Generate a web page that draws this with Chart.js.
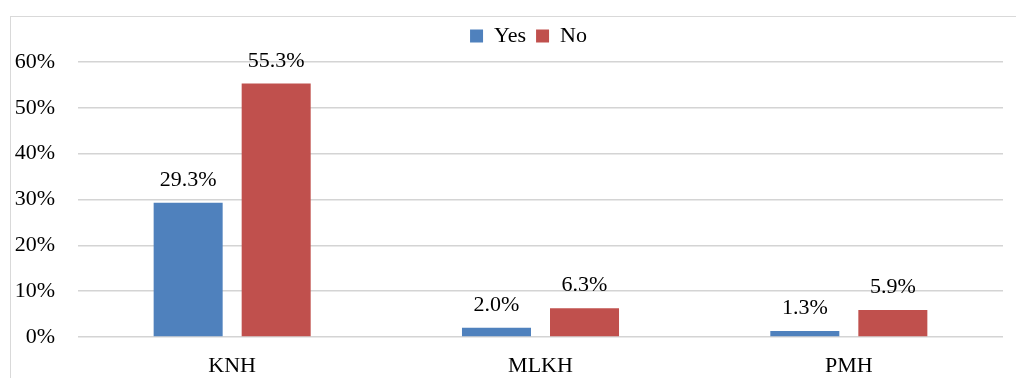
<!DOCTYPE html>
<html>
<head>
<meta charset="utf-8">
<script src="https://cdn.jsdelivr.net/npm/chart.js@4"></script>
<style>
    html, body { margin: 0; padding: 0; background: #fff; overflow: hidden; }
    #wrap { position: relative; width: 1016px; height: 378px; }
    #frame { position: absolute; left: 10px; top: 16px; width: 1100px; height: 400px; border: 1px solid #d9d9d9; }
</style>
</head>
<body>
<div id="wrap">
    <div id="frame"></div>
    <canvas id="hospitalChart"></canvas>
</div>
<script>
const hospitals = ['KNH', 'MLKH', 'PMH'];
const yesValues = [29.3, 2.0, 1.3];
const noValues = [55.3, 6.3, 5.9];
const yTicks = [0, 10, 20, 30, 40, 50, 60];

const serif = "'Liberation Serif', 'Times New Roman', serif";

// percentage text above each bar
const valueLabels = {
    id: 'valueLabels',
    afterDatasetsDraw(chart) {
        const ctx = chart.ctx;
        ctx.save();
        ctx.font = '22px ' + serif;
        ctx.fillStyle = '#000';
        ctx.textAlign = 'center';
        ctx.textBaseline = 'alphabetic';
        chart.data.datasets.forEach((ds, i) => {
            chart.getDatasetMeta(i).data.forEach((bar, j) => {
                ctx.fillText(ds.data[j].toFixed(1) + '%', bar.x, bar.y - 17);
            });
        });
        ctx.restore();
    }
};

// a bit more room under the legend, and nudge it right
const legendTweak = {
    id: 'legendTweak',
    afterInit(chart) {
        const fit = chart.legend.fit;
        chart.legend.fit = function () {
            fit.call(this);
            this.height += 5;
        };
    },
    afterLayout(chart) {
        chart.legend.left += 20;
        chart.legend.right += 20;
    }
};

const ctx = document.getElementById('hospitalChart').getContext('2d');
const hospitalChart = new Chart(ctx, {
    type: 'bar',
    data: {
        labels: hospitals,
        datasets: [{
            label: 'Yes',
            data: yesValues,
            backgroundColor: '#4F81BD',
            categoryPercentage: 0.571,
            barPercentage: 0.784
        }, {
            label: 'No',
            data: noValues,
            backgroundColor: '#C0504D',
            categoryPercentage: 0.571,
            barPercentage: 0.784
        }]
    },
    options: {
        responsive: true,
        maintainAspectRatio: false,
        animation: false,
        layout: {
            padding: { left: 14, right: 13, top: 15, bottom: 0 }
        },
        scales: {
            x: {
                grid: { display: false },
                border: { display: false },
                ticks: {
                    color: '#000',
                    padding: 8,
                    font: { family: serif, size: 22 }
                },
                afterFit(scale) { scale.height = 41; }
            },
            y: {
                min: 0,
                max: 60,
                afterBuildTicks(scale) {
                    scale.ticks = yTicks.map(v => ({ value: v }));
                },
                grid: { color: '#d4d4d4', lineWidth: 1.5, drawTicks: false },
                border: { display: false },
                ticks: {
                    color: '#000',
                    padding: 23,
                    font: { family: serif, size: 22 },
                    callback: v => v + '%'
                },
                afterFit(scale) { scale.width = 64; }
            }
        },
        plugins: {
            legend: {
                position: 'top',
                labels: {
                    boxWidth: 13,
                    boxHeight: 13,
                    padding: 10,
                    color: '#000',
                    font: { family: serif, size: 22 }
                }
            },
            tooltip: { enabled: false }
        }
    },
    plugins: [valueLabels, legendTweak]
});
</script>
</body>
</html>
